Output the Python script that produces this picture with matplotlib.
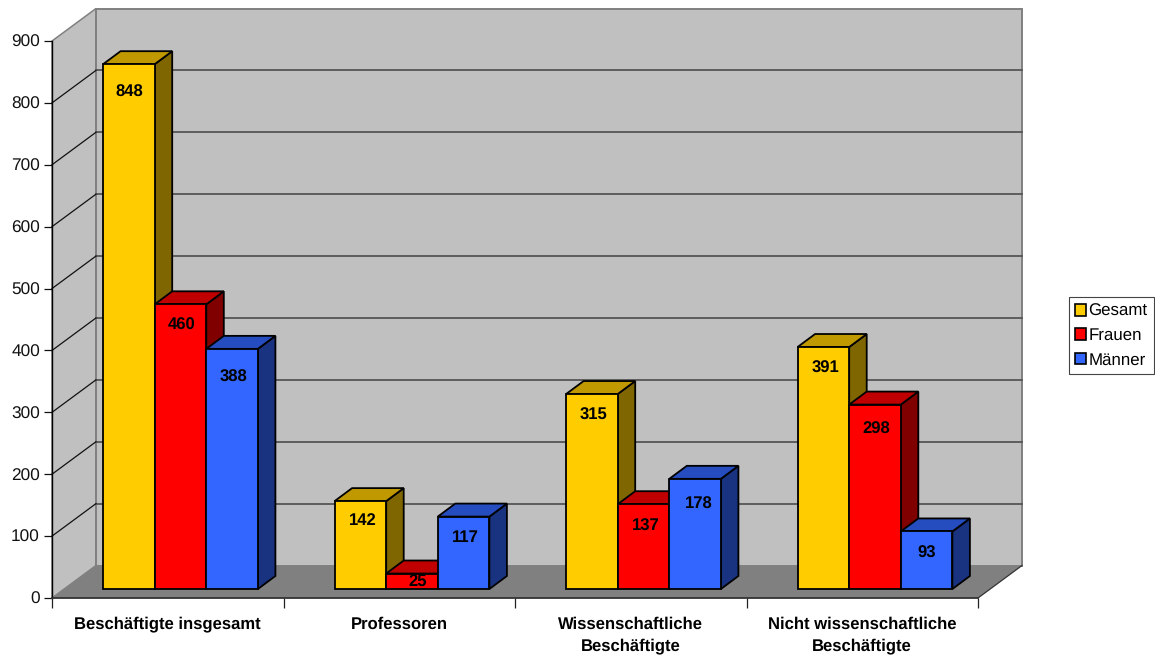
import matplotlib
matplotlib.use("Agg")
import matplotlib.pyplot as plt
from matplotlib.patches import Polygon, Patch

plt.rcParams['font.family'] = ['Liberation Sans', 'DejaVu Sans']
plt.rcParams['text.hinting'] = 'none'

categories = ["Beschäftigte insgesamt", "Professoren",
              "Wissenschaftliche\nBeschäftigte", "Nicht wissenschaftliche\nBeschäftigte"]
series_names = ["Gesamt", "Frauen", "Männer"]
gesamt = [848, 142, 315, 391]
frauen = [460, 25, 137, 298]
maenner = [388, 117, 178, 93]
y_ticks = [0, 100, 200, 300, 400, 500, 600, 700, 800, 900]

W, H = 1155, 655
AX_L, AX_R, AX_T, AX_B = 52, 978, 41, 598
fig = plt.figure(figsize=(W / 100, H / 100), dpi=100, facecolor='white')
ax = fig.add_axes([AX_L / W, 1 - AX_B / H, (AX_R - AX_L) / W, (AX_B - AX_T) / H])
ax.set_xlim(0, len(categories))
ax.set_ylim(0, y_ticks[-1])
ax.patch.set_visible(False)

# pixel to data scale factors
sx = len(categories) / (AX_R - AX_L)
sy = y_ticks[-1] / (AX_B - AX_T)
WALL_DX, WALL_DY = 44 * sx, 32.5 * sy
BASE_DX, BASE_DY = 12.75 * sx, 9 * sy
BAR_W = 51.6 * sx
BAR_DX, BAR_DY = 17.5 * sx, 13 * sy
X1, Y1 = len(categories), y_ticks[-1]

wall_grey = '#C0C0C0'
floor_grey = '#808080'

def poly(points, **kw):
    kw.setdefault('clip_on', False)
    p = Polygon(points, closed=True, **kw)
    ax.add_patch(p)
    return p

# floor, back wall, left wall
poly([(0, 0), (X1, 0), (X1 + WALL_DX, WALL_DY), (WALL_DX, WALL_DY)],
     fc=floor_grey, ec='none', zorder=1)
poly([(WALL_DX, WALL_DY), (X1 + WALL_DX, WALL_DY), (X1 + WALL_DX, Y1 + WALL_DY), (WALL_DX, Y1 + WALL_DY)],
     fc=wall_grey, ec=floor_grey, lw=1.4, zorder=1.2)
poly([(0, 0), (WALL_DX, WALL_DY), (WALL_DX, Y1 + WALL_DY), (0, Y1)],
     fc=wall_grey, ec=floor_grey, lw=1.1, zorder=1.1)
ax.plot([X1, X1 + WALL_DX], [0, WALL_DY], color='#333333', lw=0.9, clip_on=False, zorder=1.3)

# gridlines
for t in y_ticks[1:-1]:
    ax.plot([WALL_DX, X1 + WALL_DX], [t + WALL_DY] * 2, color='#555555', lw=1.3, clip_on=False, zorder=1.5)
    ax.plot([0, WALL_DX], [t, t + WALL_DY], color='#111111', lw=0.9, clip_on=False, zorder=1.5)

palette = [('#FFCC00', '#C09900', '#806600'),
           ('#FF0000', '#C00000', '#800000'),
           ('#3366FF', '#264DBF', '#1A3380')]
all_series = [gesamt, frauen, maenner]
# label distance below the bar top and rightward nudge, in pixels
label_drop = [[28, 21, 29], [19, 9, 21], [21, 22, 26], [21, 25, 22]]
label_nudge = [[0, 1, 1], [2, 6, 2], [2, 2, 4], [2, 1, 0]]

z = 2
for i in range(len(categories)):
    left = i + 0.5 + BASE_DX - 1.5 * BAR_W
    for j, values in enumerate(all_series):
        v = values[i]
        x0 = left + j * BAR_W
        x1 = x0 + BAR_W
        y0 = BASE_DY
        y1 = BASE_DY + v
        front, top, side = palette[j]
        style = dict(ec='black', lw=1.3, joinstyle='miter')
        poly([(x1, y0), (x1 + BAR_DX, y0 + BAR_DY), (x1 + BAR_DX, y1 + BAR_DY), (x1, y1)], fc=side, zorder=z, **style)
        poly([(x0, y1), (x1, y1), (x1 + BAR_DX, y1 + BAR_DY), (x0 + BAR_DX, y1 + BAR_DY)], fc=top, zorder=z, **style)
        poly([(x0, y0), (x1, y0), (x1, y1), (x0, y1)], fc=front, zorder=z + 0.1, **style)
        ax.text((x0 + x1) / 2 + label_nudge[i][j] * sx, y1 - label_drop[i][j] * sy, str(v), ha='center', va='center',
                fontsize=12, fontweight='bold', color='black', zorder=20)
        z += 1

# axes
for s in ('top', 'right'):
    ax.spines[s].set_visible(False)
ax.spines['left'].set_color('black')
ax.spines['left'].set_linewidth(1.0)
ax.spines['bottom'].set_color('#333333')
ax.spines['bottom'].set_linewidth(1.3)
ax.spines['left'].set_zorder(1.6)
ax.spines['bottom'].set_zorder(1.6)
ax.set_yticks(y_ticks)
ax.tick_params(axis='y', length=5.5, width=0.9, labelsize=12.4, pad=3.2, colors='#111111')
ax.set_xticks(range(len(categories) + 1))
ax.set_xticklabels([])
ax.tick_params(axis='x', which='major', length=7.5, width=0.9, color='#222222')
ax.set_xticks([i + 0.5 for i in range(len(categories))], minor=True)
ax.set_xticklabels(categories, minor=True, fontsize=12, fontweight='bold', linespacing=1.5)
ax.tick_params(axis='x', which='minor', length=0, pad=13.3)

# legend
handles = [Patch(fc=c[0], ec='black', lw=1.2) for c in palette]
leg = fig.legend(handles, series_names, loc='upper left',
                 bbox_to_anchor=(1069 / W, 1 - 297 / H), bbox_transform=fig.transFigure,
                 fontsize=12.2, frameon=True, fancybox=False, edgecolor='#444444', framealpha=1,
                 borderaxespad=0, borderpad=0.38, handlelength=0.6, handleheight=0.68,
                 handletextpad=0.15, labelspacing=0.5)
leg.get_frame().set_linewidth(0.8)

fig.savefig('out.png', dpi=100, facecolor='white')
